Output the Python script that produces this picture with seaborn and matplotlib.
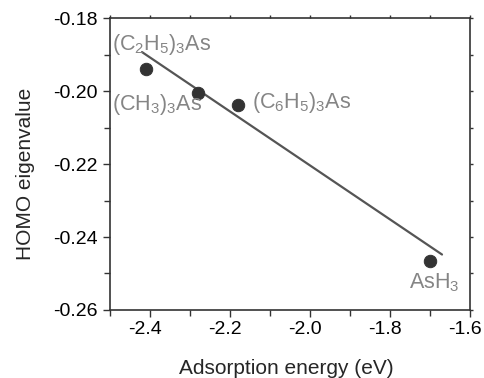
import numpy as np
import pandas as pd
import matplotlib
matplotlib.use('Agg')
import matplotlib.pyplot as plt
import matplotlib.transforms as mtransforms
import seaborn as sns
from matplotlib.ticker import MultipleLocator, FormatStrFormatter

sns.set_theme(style='ticks')
plt.rcParams['font.family'] = ['Liberation Sans', 'DejaVu Sans']
plt.rcParams['mathtext.default'] = 'regular'

# data
molecules = ['(C$_2$H$_5$)$_3$As', '(CH$_3$)$_3$As', '(C$_6$H$_5$)$_3$As', 'AsH$_3$']
adsorption = [-2.41, -2.28, -2.18, -1.70]
homo = [-0.194, -0.2005, -0.2038, -0.2465]
# label anchors (left / centre of text)
label_x = [-2.495, -2.495, -2.145, -1.752]
label_y = [-0.1872, -0.2036, -0.2032, -0.2525]
# fitted line end points
fit_x = [-2.42, -1.67]
fit_y = [-0.1893, -0.2448]

df = pd.DataFrame({'x': adsorption, 'y': homo, 'name': molecules})
fit = pd.DataFrame({'x': fit_x, 'y': fit_y})

fig = plt.figure(figsize=(4.85, 3.78), dpi=100)
ax = fig.add_axes([0.2268, 0.18, 0.7423, 0.772])

sns.lineplot(data=fit, x='x', y='y', ax=ax, color='#555555', linewidth=1.6)
sns.scatterplot(data=df, x='x', y='y', ax=ax, color='#333333', s=80,
                edgecolor='#333333', zorder=3)

for name, lx, ly in zip(molecules, label_x, label_y):
    ax.text(lx, ly, name, ha='left', va='center', fontsize=15.5, color='#858585')

ax.set_xlim(-2.5, -1.6)
ax.set_ylim(-0.26, -0.18)
ax.xaxis.set_major_locator(MultipleLocator(0.2))
ax.xaxis.set_minor_locator(MultipleLocator(0.1))
ax.yaxis.set_major_locator(MultipleLocator(0.02))
ax.yaxis.set_minor_locator(MultipleLocator(0.01))
ax.xaxis.set_major_formatter(FormatStrFormatter('%.1f'))
ax.yaxis.set_major_formatter(FormatStrFormatter('%.2f'))

ax.tick_params(which='both', top=True, right=True, labeltop=False, labelright=False)
ax.tick_params(which='major', direction='out', length=5, width=1, labelsize=14,
               color='#333333', labelcolor='black')
ax.tick_params(which='minor', direction='out', length=4, width=1, color='#333333')
ax.tick_params(axis='x', which='major', pad=3)
ax.tick_params(axis='y', which='major', pad=4)
# short ticks on top and right spines
for t in ax.xaxis.get_major_ticks() + ax.xaxis.get_minor_ticks():
    t.tick2line.set_markersize(2)
for t in ax.yaxis.get_major_ticks() + ax.yaxis.get_minor_ticks():
    t.tick2line.set_markersize(2)

# x tick labels sit a little left of their ticks in the original
shift = mtransforms.ScaledTranslation(-5 / 100, 0, fig.dpi_scale_trans)
for lab in ax.get_xticklabels():
    lab.set_transform(lab.get_transform() + shift)

for sp in ax.spines.values():
    sp.set_color('#333333')
    sp.set_linewidth(1.2)

ax.set_xlabel('Adsorption energy (eV)', fontsize=15)
ax.set_ylabel('HOMO eigenvalue', fontsize=15)
ax.xaxis.set_label_coords(0.49, -0.2)
ax.xaxis.label.set_va('center')
ax.yaxis.set_label_coords(-0.236, 0.466)
ax.yaxis.label.set_va('center')

fig.savefig('out.png', dpi=100)
